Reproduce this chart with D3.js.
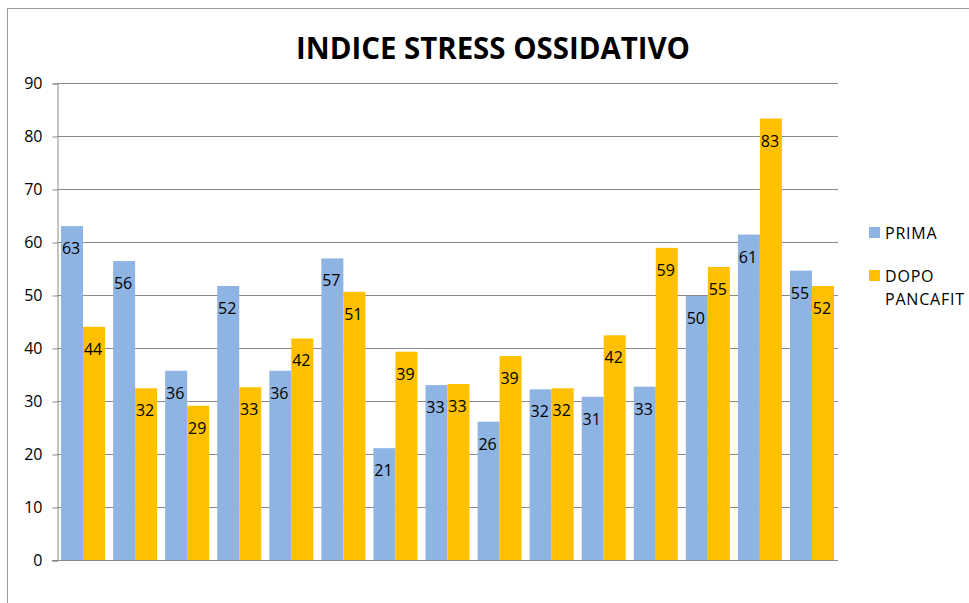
<!DOCTYPE html>
<html>
<head>
<meta charset="utf-8">
<script src="https://cdn.jsdelivr.net/npm/d3@7"></script>
<style>
  html, body { margin: 0; padding: 0; background: #fff; }
  svg { display: block; }
  text { font-family: "Open Sans", Lato, "Liberation Sans", sans-serif; }
</style>
</head>
<body>
<svg id="chart" width="969" height="603"></svg>
<script>
const categories = ["1","2","3","4","5","6","7","8","9","10","11","12","13","14","15"];
const seriesNames = ["PRIMA", "DOPO PANCAFIT"];
const prima = [63.0, 56.4, 35.7, 51.7, 35.7, 56.9, 21.1, 33.0, 26.1, 32.2, 30.8, 32.7, 49.8, 61.4, 54.6];
const dopo  = [44.0, 32.4, 29.1, 32.6, 41.8, 50.6, 39.3, 33.2, 38.5, 32.4, 42.4, 58.9, 55.3, 83.3, 51.7];
const yTicks = [0, 10, 20, 30, 40, 50, 60, 70, 80, 90];
const colors = ["#8EB4E3", "#FFC000"];

const svg = d3.select("#chart");

// outer frame
svg.append("rect")
  .attr("x", 7.5).attr("y", 8.5)
  .attr("width", 1000).attr("height", 700)
  .attr("fill", "none").attr("stroke", "#9a9a9a").attr("stroke-width", 1);

const x0 = d3.scaleBand().domain(categories).range([57, 838]).paddingInner(0.155).paddingOuter(0.0775);
const x1 = d3.scaleBand().domain(seriesNames).range([0, x0.bandwidth()]);
const y = d3.scaleLinear().domain([0, 90]).range([560, 83]);

// gridlines
svg.append("g").selectAll("line").data(yTicks.filter(d => d > 0)).join("line")
  .attr("x1", 57).attr("x2", 838)
  .attr("y1", d => Math.round(y(d)) + 0.5).attr("y2", d => Math.round(y(d)) + 0.5)
  .attr("stroke", "#898989").attr("stroke-width", 1);

// y axis
const yAxis = d3.axisLeft(y).tickValues(yTicks).tickSize(5).tickPadding(10).tickFormat(d3.format("d"));
const gy = svg.append("g").attr("transform", "translate(57.5,0.5)").call(yAxis);
gy.select(".domain").attr("stroke", "#898989");
gy.selectAll(".tick line").attr("stroke", "#898989");
gy.selectAll(".tick text").attr("font-size", 16).attr("fill", "#000")
  .attr("font-family", "'Open Sans', Lato, sans-serif");

// bars
const data = categories.map((c, i) => ({ cat: c, vals: [
  { s: seriesNames[0], v: prima[i], k: 0 },
  { s: seriesNames[1], v: dopo[i], k: 1 }
]}));

const groups = svg.append("g").selectAll("g").data(data).join("g")
  .attr("transform", d => `translate(${x0(d.cat)},0)`);

groups.selectAll("rect").data(d => d.vals).join("rect")
  .attr("x", d => x1(d.s))
  .attr("width", x1.bandwidth())
  .attr("y", d => y(d.v))
  .attr("height", d => y(0) - y(d.v))
  .attr("fill", d => colors[d.k]);

groups.selectAll("text").data(d => d.vals).join("text")
  .attr("x", d => x1(d.s) + x1.bandwidth() / 2 - 1)
  .attr("y", d => y(d.v) + 28)
  .attr("text-anchor", "middle")
  .attr("font-size", 16)
  .attr("fill", "#000")
  .text(d => d3.format(".0f")(d.v));

// x axis baseline
svg.append("line")
  .attr("x1", 52).attr("x2", 838)
  .attr("y1", Math.round(y(0)) + 0.5).attr("y2", Math.round(y(0)) + 0.5)
  .attr("stroke", "#898989").attr("stroke-width", 1);

// title
svg.append("text")
  .attr("x", 493).attr("y", 59)
  .attr("text-anchor", "middle")
  .attr("font-size", 30).attr("font-weight", "bold")
  .attr("font-family", "Lato, 'Open Sans', sans-serif")
  .attr("textLength", 394).attr("lengthAdjust", "spacingAndGlyphs")
  .attr("fill", "#000")
  .text("INDICE STRESS OSSIDATIVO");

// legend
const legend = svg.append("g");
const legendItems = [
  { name: seriesNames[0], lines: ["PRIMA"], y: 227, k: 0 },
  { name: seriesNames[1], lines: ["DOPO", "PANCAFIT"], y: 270, k: 1 }
];
legendItems.forEach(it => {
  legend.append("rect").attr("x", 869).attr("y", it.y).attr("width", 11).attr("height", 11).attr("fill", colors[it.k]);
  it.lines.forEach((ln, j) => {
    legend.append("text").attr("x", 885).attr("y", it.y + 12 + j * 23)
      .attr("font-size", 16).attr("letter-spacing", 0.8).attr("fill", "#000").text(ln);
  });
});
</script>
</body>
</html>
